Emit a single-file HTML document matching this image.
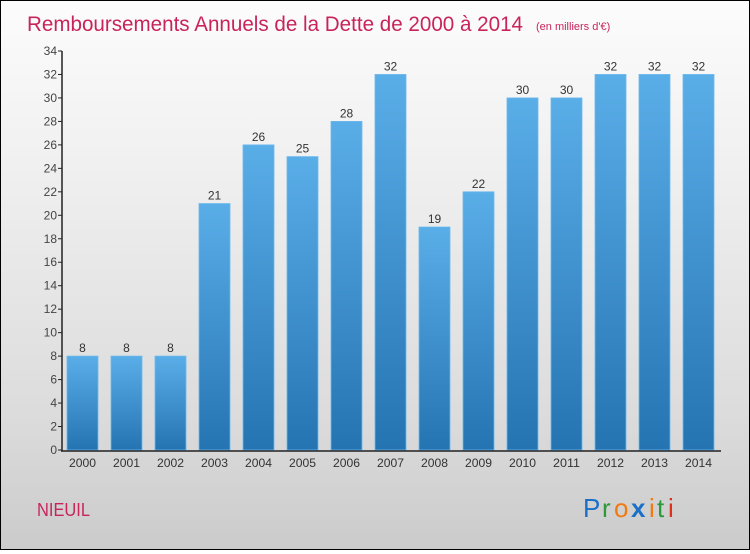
<!DOCTYPE html>
<html><head><meta charset="utf-8"><style>
body{margin:0;width:750px;height:550px;overflow:hidden;font-family:"Liberation Sans",sans-serif}
#c{position:absolute;left:0;top:0;width:748px;height:548px;border:1px solid #000;background:linear-gradient(#fcfcfc,#f2f2f2 25%,#dcdcdc 75%,#cbcbcb)}
</style></head><body>
<div id="c">
<svg width="748" height="548">
<defs><linearGradient id="g" x1="0" y1="0" x2="0" y2="1"><stop offset="0" stop-color="#5aaee8"/><stop offset="1" stop-color="#2574b2"/></linearGradient></defs>
<text x="26" y="30" font-size="21" fill="#c8245a" textLength="496" lengthAdjust="spacingAndGlyphs">Remboursements Annuels de la Dette de 2000 à 2014</text>
<text x="535" y="29" font-size="11" fill="#c8245a">(en milliers d'€)</text>
<g id="plot"></g>
<text x="36" y="515" font-size="18" fill="#c8245a" textLength="53" lengthAdjust="spacingAndGlyphs">NIEUIL</text>
<g font-size="26" font-family="'Liberation Sans',sans-serif"><text x="582" y="516" fill="#1a6fc9">P</text><text x="601" y="516" fill="#2a9a3a">r</text><text x="613" y="516" fill="#f07a10">o</text><text x="630" y="516" fill="#1a6fc9" font-weight="bold">x</text><text x="648" y="516" fill="#f07a10">i</text><text x="656" y="516" fill="#2a9a3a">t</text><text x="667" y="516" fill="#e0301a">i</text></g>
</svg></div>
<script>
const years=["2000","2001","2002","2003","2004","2005","2006","2007","2008","2009","2010","2011","2012","2013","2014"];
const values=[8,8,8,21,26,25,28,32,19,22,30,30,32,32,32];
const yTicks=[0,2,4,6,8,10,12,14,16,18,20,22,24,26,28,30,32,34];
const NS="http://www.w3.org/2000/svg",p=document.getElementById('plot');
const y=v=>449-v*(399/34), x=i=>66+i*44;
function mk(t,a,txt){const e=document.createElementNS(NS,t);for(const k in a)e.setAttribute(k,a[k]);if(txt!=null)e.textContent=txt;p.appendChild(e);return e;}
yTicks.forEach(t=>{
 const l=mk('line',{x1:57,x2:61,y1:y(t),y2:y(t),stroke:'#222'});
 
 
 const tx=mk('text',{x:56,y:y(t)+4,'font-size':12,fill:'#444','text-anchor':'end'},t);
 
 
});
values.forEach((v,i)=>{
 const r=mk('rect',{x:x(i),y:y(v),width:31,height:y(0)-y(v),fill:'url(#g)',stroke:'#6cb8ee','stroke-width':0.8});
 
 
 const vl=mk('text',{x:x(i)+15.5,y:y(v)-4,'font-size':12,fill:'#333','text-anchor':'middle'},v);
 
 
 const xl=mk('text',{x:x(i)+15.5,y:466,'font-size':12,fill:'#333','text-anchor':'middle',textLength:27,lengthAdjust:'spacingAndGlyphs'},years[i]);
 
 
});
const ya=mk('line',{x1:61,x2:61,y1:y(34),y2:y(0)+1,stroke:'#222','stroke-width':1.5});


const xa=mk('line',{x1:60,x2:720,y1:y(0)+1,y2:y(0)+1,stroke:'#222','stroke-width':1.5});


</script>
</body></html>
